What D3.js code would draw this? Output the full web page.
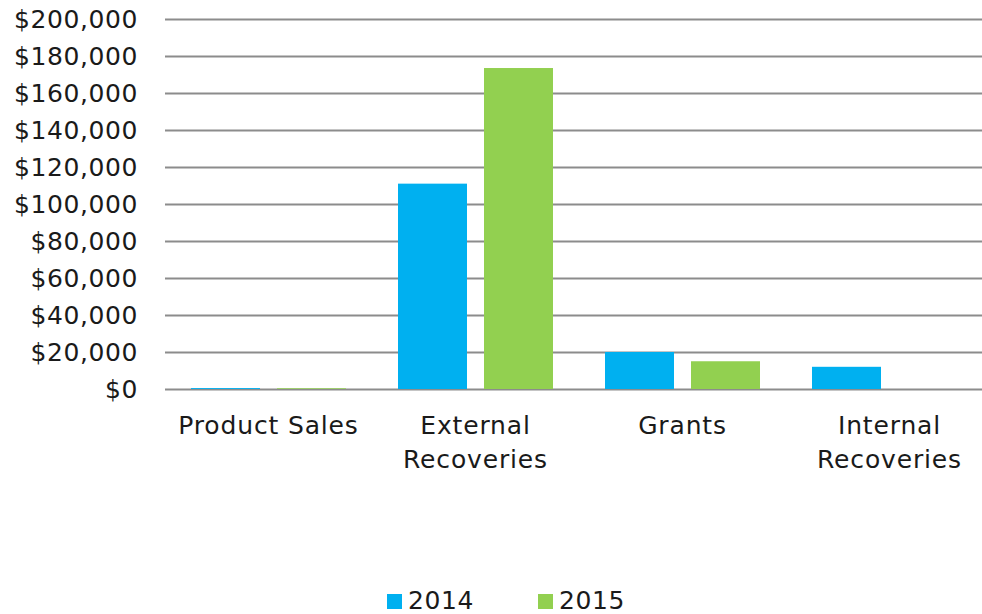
<!DOCTYPE html>
<html>
<head>
<meta charset="utf-8">
<script src="https://cdn.jsdelivr.net/npm/d3@7"></script>
<style>
  html, body { margin: 0; padding: 0; background: #fff; }
  svg { display: block; }
  text { font-family: "DejaVu Sans", Verdana, sans-serif; fill: #1a1a1a; }
</style>
</head>
<body>
<svg id="chart" width="982" height="614"></svg>
<script>
// Revenue by source, two years
const categories = [["Product Sales"], ["External", "Recoveries"], ["Grants"], ["Internal", "Recoveries"]];
const years = ["2014", "2015"];
const values2014 = [500, 111000, 20000, 12000];
const values2015 = [400, 173500, 15000, 0];
const yTicks = [0, 20000, 40000, 60000, 80000, 100000, 120000, 140000, 160000, 180000, 200000];
const colors = ["#00B0F0", "#92D050"];

const svg = d3.select("#chart");
const W = 982, H = 614;
const plotLeft = 165, plotRight = 993; // plot area runs slightly past the page edge
const plotTop = 19, plotBottom = 389;

const x0 = d3.scaleBand()
  .domain(d3.range(categories.length))
  .range([plotLeft, plotRight])
  .paddingInner(0.2512)
  .paddingOuter(0.1256);

const x1 = d3.scaleBand()
  .domain(years)
  .range([0, x0.bandwidth()])
  .paddingInner(0.1977);

const y = d3.scaleLinear()
  .domain([0, 200000])
  .range([plotBottom, plotTop]);

// Gridlines and value labels
const yAxis = d3.axisLeft(y)
  .tickValues(yTicks)
  .tickSize(-(plotRight - plotLeft))
  .tickPadding(27)
  .tickFormat(d => "$" + d3.format(",")(d));

const gy = svg.append("g")
  .attr("transform", `translate(${plotLeft},0)`)
  .call(yAxis);
gy.select(".domain").remove();
gy.selectAll(".tick line").attr("stroke", "#8c8c8c").attr("stroke-width", 2);
gy.selectAll(".tick text")
  .attr("font-size", 25)
  .attr("letter-spacing", 0.6)
  .attr("fill", "#1a1a1a")
  .style("font-family", '"DejaVu Sans", Verdana, sans-serif');

// Bars
const series = [values2014, values2015];
const groups = svg.append("g")
  .selectAll("g")
  .data(categories.map((c, i) => i))
  .join("g")
  .attr("transform", i => `translate(${x0(i)},0)`);

groups.selectAll("rect")
  .data(i => years.map((yr, k) => ({ yr, k, v: series[k][i] })))
  .join("rect")
  .attr("x", d => x1(d.yr))
  .attr("width", x1.bandwidth())
  .attr("y", d => y(d.v))
  .attr("height", d => plotBottom - y(d.v))
  .attr("fill", d => colors[d.k]);

// Category labels
const xLab = svg.append("g");
categories.forEach((lines, i) => {
  const cx = x0(i) + x0.bandwidth() / 2;
  const t = xLab.append("text")
    .attr("x", cx)
    .attr("y", 434)
    .attr("text-anchor", "middle")
    .attr("font-size", 25)
    .attr("letter-spacing", 0.85);
  lines.forEach((ln, j) => {
    t.append("tspan")
      .attr("x", cx)
      .attr("dy", j === 0 ? 0 : 34)
      .text(ln);
  });
});

// Legend
const legend = svg.append("g");
const legendX = [387, 538];
years.forEach((yr, k) => {
  legend.append("rect")
    .attr("x", legendX[k])
    .attr("y", 594)
    .attr("width", 15)
    .attr("height", 15)
    .attr("fill", colors[k]);
  legend.append("text")
    .attr("x", legendX[k] + 21)
    .attr("y", 609)
    .attr("font-size", 25)
    .attr("letter-spacing", 0.6)
    .text(yr);
});
</script>
</body>
</html>
